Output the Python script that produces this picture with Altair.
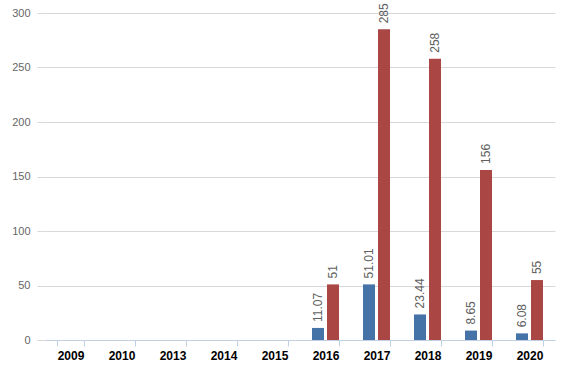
import altair as alt
import pandas as pd

years = ["2009", "2010", "2013", "2014", "2015", "2016", "2017", "2018", "2019", "2020"]
series_a = [None, None, None, None, None, 11.07, 51.01, 23.44, 8.65, 6.08]
series_b = [None, None, None, None, None, 51, 285, 258, 156, 55]
series_names = ["Series 1", "Series 2"]
colors = ["#4572A7", "#AA4643"]

rows = []
for y, a, b in zip(years, series_a, series_b):
    rows.append({"year": y, "series": series_names[0], "value": a})
    rows.append({"year": y, "series": series_names[1], "value": b})
df = pd.DataFrame(rows)

x_scale = alt.Scale(domain=years, paddingInner=0.47, paddingOuter=0.235)
x_enc = alt.X("year:N", title=None, scale=x_scale,
              axis=alt.Axis(labelAngle=0, labelFontWeight="bold", labelFontSize=12,
                            labelColor="#000000", labelFont="Arial, Liberation Sans",
                            domainColor="#C0D0E0", tickColor="#C0D0E0", tickSize=6,
                            tickBand="extent", labelPadding=4, grid=False))
xoff = alt.XOffset("series:N", sort=series_names,
                   scale=alt.Scale(domain=series_names, paddingInner=0.2, paddingOuter=0))
y_enc = alt.Y("value:Q", title=None,
              scale=alt.Scale(domain=[0, 300], nice=False),
              axis=alt.Axis(values=[0, 50, 100, 150, 200, 250, 300], domain=False,
                            tickColor="#D8D8D8", tickSize=8, labelPadding=7,
                            gridColor="#D8D8D8", labelColor="#666666",
                            labelFontSize=11, labelFont="Arial, Liberation Sans"))

base = alt.Chart(df).transform_filter("datum.value != null")

bars = base.mark_bar().encode(
    x=x_enc, xOffset=xoff, y=y_enc,
    color=alt.Color("series:N", sort=series_names,
                    scale=alt.Scale(domain=series_names, range=colors), legend=None),
)

labels = base.mark_text(angle=270, align="left", baseline="middle", dx=6,
                        fontSize=12, color="#606060",
                        font="Arial, Liberation Sans").encode(
    x=alt.X("year:N", scale=x_scale), xOffset=xoff, y=alt.Y("value:Q"),
    text=alt.Text("value:Q"),
)

chart = (bars + labels).properties(
    width=510, height=327,
    autosize=alt.AutoSizeParams(type="none"),
    padding={"left": 45, "top": 13, "right": 8, "bottom": 35},
).configure_view(stroke=None).configure_axis(gridWidth=1)

chart.save("out.html", embed_options={"renderer": "svg", "actions": False})
